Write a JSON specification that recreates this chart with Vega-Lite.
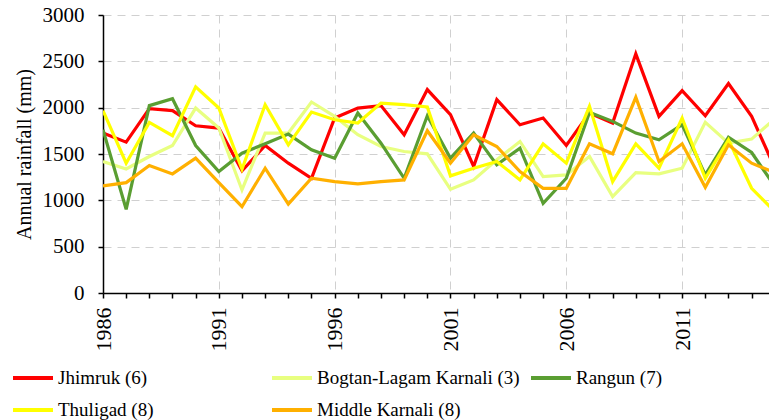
{
  "$schema": "https://vega.github.io/schema/vega-lite/v6.json",
  "autosize": "none",
  "width": 666,
  "height": 278,
  "padding": {"left": 103, "top": 15, "right": 0, "bottom": 127},
  "background": "white",
  "config": {
    "view": {"stroke": null},
    "font": "Liberation Serif",
    "legend": {"padding": 0}
  },
  "data": {
    "values": [
      {"basin": "Jhimruk (6)", "year": 1986, "rain": 1726}, {"basin": "Jhimruk (6)", "year": 1987, "rain": 1628}, {"basin": "Jhimruk (6)", "year": 1988, "rain": 1989}, {"basin": "Jhimruk (6)", "year": 1989, "rain": 1968}, {"basin": "Jhimruk (6)", "year": 1990, "rain": 1805}, {"basin": "Jhimruk (6)", "year": 1991, "rain": 1780}, {"basin": "Jhimruk (6)", "year": 1992, "rain": 1318}, {"basin": "Jhimruk (6)", "year": 1993, "rain": 1592}, {"basin": "Jhimruk (6)", "year": 1994, "rain": 1401}, {"basin": "Jhimruk (6)", "year": 1995, "rain": 1238},
      {"basin": "Jhimruk (6)", "year": 1996, "rain": 1888}, {"basin": "Jhimruk (6)", "year": 1997, "rain": 1996}, {"basin": "Jhimruk (6)", "year": 1998, "rain": 2022}, {"basin": "Jhimruk (6)", "year": 1999, "rain": 1708}, {"basin": "Jhimruk (6)", "year": 2000, "rain": 2195}, {"basin": "Jhimruk (6)", "year": 2001, "rain": 1924}, {"basin": "Jhimruk (6)", "year": 2002, "rain": 1365}, {"basin": "Jhimruk (6)", "year": 2003, "rain": 2087}, {"basin": "Jhimruk (6)", "year": 2004, "rain": 1816}, {"basin": "Jhimruk (6)", "year": 2005, "rain": 1888},
      {"basin": "Jhimruk (6)", "year": 2006, "rain": 1592}, {"basin": "Jhimruk (6)", "year": 2007, "rain": 1942}, {"basin": "Jhimruk (6)", "year": 2008, "rain": 1834}, {"basin": "Jhimruk (6)", "year": 2009, "rain": 2581}, {"basin": "Jhimruk (6)", "year": 2010, "rain": 1906}, {"basin": "Jhimruk (6)", "year": 2011, "rain": 2184}, {"basin": "Jhimruk (6)", "year": 2012, "rain": 1913}, {"basin": "Jhimruk (6)", "year": 2013, "rain": 2260}, {"basin": "Jhimruk (6)", "year": 2014, "rain": 1906}, {"basin": "Jhimruk (6)", "year": 2015, "rain": 1350},

      {"basin": "Bogtan-Lagam Karnali (3)", "year": 1986, "rain": 1419}, {"basin": "Bogtan-Lagam Karnali (3)", "year": 1987, "rain": 1339}, {"basin": "Bogtan-Lagam Karnali (3)", "year": 1988, "rain": 1473}, {"basin": "Bogtan-Lagam Karnali (3)", "year": 1989, "rain": 1592}, {"basin": "Bogtan-Lagam Karnali (3)", "year": 1990, "rain": 1996}, {"basin": "Bogtan-Lagam Karnali (3)", "year": 1991, "rain": 1780}, {"basin": "Bogtan-Lagam Karnali (3)", "year": 1992, "rain": 1112}, {"basin": "Bogtan-Lagam Karnali (3)", "year": 1993, "rain": 1726}, {"basin": "Bogtan-Lagam Karnali (3)", "year": 1994, "rain": 1726}, {"basin": "Bogtan-Lagam Karnali (3)", "year": 1995, "rain": 2061},
      {"basin": "Bogtan-Lagam Karnali (3)", "year": 1996, "rain": 1906}, {"basin": "Bogtan-Lagam Karnali (3)", "year": 1997, "rain": 1708}, {"basin": "Bogtan-Lagam Karnali (3)", "year": 1998, "rain": 1581}, {"basin": "Bogtan-Lagam Karnali (3)", "year": 1999, "rain": 1527}, {"basin": "Bogtan-Lagam Karnali (3)", "year": 2000, "rain": 1502}, {"basin": "Bogtan-Lagam Karnali (3)", "year": 2001, "rain": 1119}, {"basin": "Bogtan-Lagam Karnali (3)", "year": 2002, "rain": 1220}, {"basin": "Bogtan-Lagam Karnali (3)", "year": 2003, "rain": 1437}, {"basin": "Bogtan-Lagam Karnali (3)", "year": 2004, "rain": 1635}, {"basin": "Bogtan-Lagam Karnali (3)", "year": 2005, "rain": 1256},
      {"basin": "Bogtan-Lagam Karnali (3)", "year": 2006, "rain": 1274}, {"basin": "Bogtan-Lagam Karnali (3)", "year": 2007, "rain": 1473}, {"basin": "Bogtan-Lagam Karnali (3)", "year": 2008, "rain": 1040}, {"basin": "Bogtan-Lagam Karnali (3)", "year": 2009, "rain": 1300}, {"basin": "Bogtan-Lagam Karnali (3)", "year": 2010, "rain": 1285}, {"basin": "Bogtan-Lagam Karnali (3)", "year": 2011, "rain": 1347}, {"basin": "Bogtan-Lagam Karnali (3)", "year": 2012, "rain": 1841}, {"basin": "Bogtan-Lagam Karnali (3)", "year": 2013, "rain": 1617}, {"basin": "Bogtan-Lagam Karnali (3)", "year": 2014, "rain": 1661}, {"basin": "Bogtan-Lagam Karnali (3)", "year": 2015, "rain": 1880},

      {"basin": "Rangun (7)", "year": 1986, "rain": 1762}, {"basin": "Rangun (7)", "year": 1987, "rain": 903}, {"basin": "Rangun (7)", "year": 1988, "rain": 2022}, {"basin": "Rangun (7)", "year": 1989, "rain": 2097}, {"basin": "Rangun (7)", "year": 1990, "rain": 1592}, {"basin": "Rangun (7)", "year": 1991, "rain": 1310}, {"basin": "Rangun (7)", "year": 1992, "rain": 1509}, {"basin": "Rangun (7)", "year": 1993, "rain": 1610}, {"basin": "Rangun (7)", "year": 1994, "rain": 1715}, {"basin": "Rangun (7)", "year": 1995, "rain": 1545},
      {"basin": "Rangun (7)", "year": 1996, "rain": 1455}, {"basin": "Rangun (7)", "year": 1997, "rain": 1942}, {"basin": "Rangun (7)", "year": 1998, "rain": 1617}, {"basin": "Rangun (7)", "year": 1999, "rain": 1238}, {"basin": "Rangun (7)", "year": 2000, "rain": 1913}, {"basin": "Rangun (7)", "year": 2001, "rain": 1455}, {"basin": "Rangun (7)", "year": 2002, "rain": 1726}, {"basin": "Rangun (7)", "year": 2003, "rain": 1383}, {"basin": "Rangun (7)", "year": 2004, "rain": 1563}, {"basin": "Rangun (7)", "year": 2005, "rain": 968},
      {"basin": "Rangun (7)", "year": 2006, "rain": 1238}, {"basin": "Rangun (7)", "year": 2007, "rain": 1949}, {"basin": "Rangun (7)", "year": 2008, "rain": 1852}, {"basin": "Rangun (7)", "year": 2009, "rain": 1726}, {"basin": "Rangun (7)", "year": 2010, "rain": 1653}, {"basin": "Rangun (7)", "year": 2011, "rain": 1816}, {"basin": "Rangun (7)", "year": 2012, "rain": 1274}, {"basin": "Rangun (7)", "year": 2013, "rain": 1682}, {"basin": "Rangun (7)", "year": 2014, "rain": 1516}, {"basin": "Rangun (7)", "year": 2015, "rain": 1150},

      {"basin": "Thuligad (8)", "year": 1986, "rain": 1968}, {"basin": "Thuligad (8)", "year": 1987, "rain": 1401}, {"basin": "Thuligad (8)", "year": 1988, "rain": 1841}, {"basin": "Thuligad (8)", "year": 1989, "rain": 1697}, {"basin": "Thuligad (8)", "year": 1990, "rain": 2224}, {"basin": "Thuligad (8)", "year": 1991, "rain": 1996}, {"basin": "Thuligad (8)", "year": 1992, "rain": 1336}, {"basin": "Thuligad (8)", "year": 1993, "rain": 2032}, {"basin": "Thuligad (8)", "year": 1994, "rain": 1599}, {"basin": "Thuligad (8)", "year": 1995, "rain": 1953},
      {"basin": "Thuligad (8)", "year": 1996, "rain": 1870}, {"basin": "Thuligad (8)", "year": 1997, "rain": 1834}, {"basin": "Thuligad (8)", "year": 1998, "rain": 2050}, {"basin": "Thuligad (8)", "year": 1999, "rain": 2032}, {"basin": "Thuligad (8)", "year": 2000, "rain": 2007}, {"basin": "Thuligad (8)", "year": 2001, "rain": 1264}, {"basin": "Thuligad (8)", "year": 2002, "rain": 1347}, {"basin": "Thuligad (8)", "year": 2003, "rain": 1419}, {"basin": "Thuligad (8)", "year": 2004, "rain": 1220}, {"basin": "Thuligad (8)", "year": 2005, "rain": 1610},
      {"basin": "Thuligad (8)", "year": 2006, "rain": 1401}, {"basin": "Thuligad (8)", "year": 2007, "rain": 2014}, {"basin": "Thuligad (8)", "year": 2008, "rain": 1202}, {"basin": "Thuligad (8)", "year": 2009, "rain": 1610}, {"basin": "Thuligad (8)", "year": 2010, "rain": 1347}, {"basin": "Thuligad (8)", "year": 2011, "rain": 1888}, {"basin": "Thuligad (8)", "year": 2012, "rain": 1238}, {"basin": "Thuligad (8)", "year": 2013, "rain": 1653}, {"basin": "Thuligad (8)", "year": 2014, "rain": 1130}, {"basin": "Thuligad (8)", "year": 2015, "rain": 880},

      {"basin": "Middle Karnali (8)", "year": 1986, "rain": 1155}, {"basin": "Middle Karnali (8)", "year": 1987, "rain": 1191}, {"basin": "Middle Karnali (8)", "year": 1988, "rain": 1375}, {"basin": "Middle Karnali (8)", "year": 1989, "rain": 1285}, {"basin": "Middle Karnali (8)", "year": 1990, "rain": 1455}, {"basin": "Middle Karnali (8)", "year": 1991, "rain": 1191}, {"basin": "Middle Karnali (8)", "year": 1992, "rain": 931}, {"basin": "Middle Karnali (8)", "year": 1993, "rain": 1347}, {"basin": "Middle Karnali (8)", "year": 1994, "rain": 960}, {"basin": "Middle Karnali (8)", "year": 1995, "rain": 1238},
      {"basin": "Middle Karnali (8)", "year": 1996, "rain": 1202}, {"basin": "Middle Karnali (8)", "year": 1997, "rain": 1177}, {"basin": "Middle Karnali (8)", "year": 1998, "rain": 1202}, {"basin": "Middle Karnali (8)", "year": 1999, "rain": 1220}, {"basin": "Middle Karnali (8)", "year": 2000, "rain": 1751}, {"basin": "Middle Karnali (8)", "year": 2001, "rain": 1401}, {"basin": "Middle Karnali (8)", "year": 2002, "rain": 1708}, {"basin": "Middle Karnali (8)", "year": 2003, "rain": 1581}, {"basin": "Middle Karnali (8)", "year": 2004, "rain": 1310}, {"basin": "Middle Karnali (8)", "year": 2005, "rain": 1130},
      {"basin": "Middle Karnali (8)", "year": 2006, "rain": 1130}, {"basin": "Middle Karnali (8)", "year": 2007, "rain": 1610}, {"basin": "Middle Karnali (8)", "year": 2008, "rain": 1502}, {"basin": "Middle Karnali (8)", "year": 2009, "rain": 2112}, {"basin": "Middle Karnali (8)", "year": 2010, "rain": 1419}, {"basin": "Middle Karnali (8)", "year": 2011, "rain": 1610}, {"basin": "Middle Karnali (8)", "year": 2012, "rain": 1141}, {"basin": "Middle Karnali (8)", "year": 2013, "rain": 1599}, {"basin": "Middle Karnali (8)", "year": 2014, "rain": 1401}, {"basin": "Middle Karnali (8)", "year": 2015, "rain": 1300}
    ]
  },
  "mark": {"type": "line", "strokeWidth": 3.2, "clip": true, "strokeJoin": "miter"},
  "encoding": {
    "x": {
      "field": "year",
      "type": "quantitative",
      "scale": {"domain": [1986, 2014.75], "nice": false, "zero": false},
      "axis": {
        "title": null,
        "values": [1986, 1987, 1988, 1989, 1990, 1991, 1992, 1993, 1994, 1995, 1996, 1997, 1998, 1999, 2000, 2001, 2002, 2003, 2004, 2005, 2006, 2007, 2008, 2009, 2010, 2011, 2012, 2013, 2014],
        "labelExpr": "(datum.value - 1986) % 5 == 0 ? format(datum.value, 'd') : ''",
        "labelAngle": -90,
        "labelAlign": "right",
        "labelBaseline": "middle",
        "labelFont": "Liberation Serif",
        "labelFontSize": 22,
        "labelColor": "black",
        "labelPadding": 9,
        "labelOverlap": false,
        "labelFlush": false,
        "domainColor": "black",
        "domainWidth": 1.5,
        "tickColor": "black",
        "tickWidth": 1.5,
        "tickSize": 5,
        "grid": true,
        "gridColor": "#d0d0d0",
        "gridWidth": 1,
        "gridDash": [8, 6],
        "gridOpacity": {"condition": {"test": "(datum.value - 1986) % 5 == 0 && datum.value > 1986", "value": 1}, "value": 0}
      }
    },
    "y": {
      "field": "rain",
      "type": "quantitative",
      "scale": {"domain": [0, 3000], "nice": false},
      "axis": {
        "title": "Annual rainfall (mm)",
        "titleFont": "Liberation Serif",
        "titleFontSize": 20,
        "titleFontWeight": "normal",
        "titleColor": "black",
        "titlePadding": 8,
        "values": [0, 500, 1000, 1500, 2000, 2500, 3000],
        "format": "d",
        "labelFont": "Liberation Serif",
        "labelFontSize": 21,
        "labelColor": "black",
        "labelPadding": 14,
        "domainColor": "black",
        "domainWidth": 1.5,
        "tickColor": "black",
        "tickWidth": 1.5,
        "tickSize": 5,
        "grid": true,
        "gridColor": "#d0d0d0",
        "gridWidth": 1,
        "gridDash": [8, 6]
      }
    },
    "color": {
      "field": "basin",
      "type": "nominal",
      "sort": null,
      "scale": {
        "domain": ["Jhimruk (6)", "Bogtan-Lagam Karnali (3)", "Rangun (7)", "Thuligad (8)", "Middle Karnali (8)"],
        "range": ["#ff0000", "#e8ff80", "#5a9e32", "#ffff00", "#ffb000"]
      },
      "legend": {
        "title": null,
        "orient": "none",
        "legendX": -92,
        "legendY": 341,
        "direction": "horizontal",
        "columns": 3,
        "gridAlign": "all",
        "columnPadding": 3,
        "rowPadding": -10,
        "symbolType": "stroke",
        "symbolSize": 1600,
        "symbolStrokeWidth": 4,
        "labelOffset": 3,
        "labelFont": "Liberation Serif",
        "labelFontSize": 19,
        "labelColor": "black",
        "labelLimit": 400
      }
    }
  }
}
